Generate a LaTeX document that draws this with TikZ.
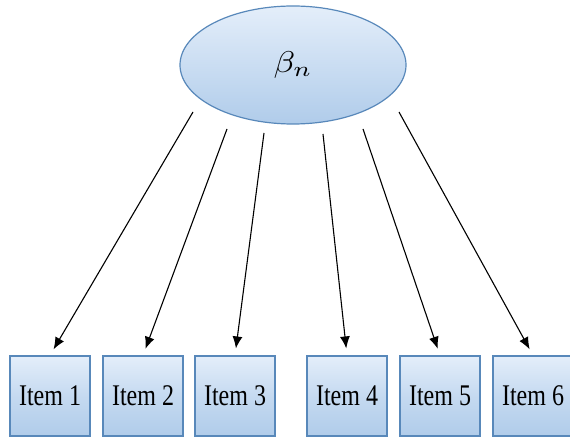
\RequirePackage{fix-cm}
\documentclass[tikz,border=0pt]{standalone}
\usepackage{fontspec}
\setmainfont{Liberation Serif}
\usetikzlibrary{arrows.meta,shapes.geometric}
\definecolor{edge}{RGB}{88,136,186}
\definecolor{lite}{RGB}{228,238,250}
\definecolor{deep}{RGB}{176,204,234}
\newcommand{\tall}[1]{\scalebox{1}[1.25]{#1}}
\tikzset{item/.style = {draw=edge, line width=1.2pt, top color=lite, bottom color=deep, middle color=deep!60!lite,
                        minimum width=80pt, minimum height=80pt, inner sep=0pt, font=\fontsize{24}{26}\selectfont},
         factor/.style = {ellipse, draw=edge, line width=1.2pt, top color=lite, bottom color=deep,
                          minimum width=226pt, minimum height=118pt, inner sep=0pt},
         conn/.style = {-{Latex[length=12pt,width=10pt]}, line width=1.1pt, shorten >=7pt}}
\begin{document}
\begin{tikzpicture}[x=1pt,y=-1pt]
\useasboundingbox (0,0) rectangle (570,438);
\node [factor] (beta) at (293,65) {\raisebox{3pt}{\scalebox{3.5}[3.0]{$\beta_n$}}};
\node [item] (i1) at (50,396) {\tall{Item 1}};
\node [item] (i2) at (143,396) {\tall{Item 2}};
\node [item] (i3) at (235,396) {\tall{Item 3}};
\node [item] (i4) at (347,396) {\tall{Item 4}};
\node [item] (i5) at (440,396) {\tall{Item 5}};
\node [item] (i6) at (533,396) {\tall{Item 6}};
% start points just below the ellipse
\coordinate (s1) at (193,112);
\coordinate (s2) at (227,129);
\coordinate (s3) at (264,133);
\coordinate (s4) at (323,134);
\coordinate (s5) at (363,129);
\coordinate (s6) at (399,112);
\draw [conn] (s1) -- (i1.north);
\draw [conn] (s2) -- (i2.north);
\draw [conn] (s3) -- (i3.north);
\draw [conn] (s4) -- (i4.north);
\draw [conn] (s5) -- (i5.north);
\draw [conn] (s6) -- (i6.north);
\end{tikzpicture}
\end{document}
